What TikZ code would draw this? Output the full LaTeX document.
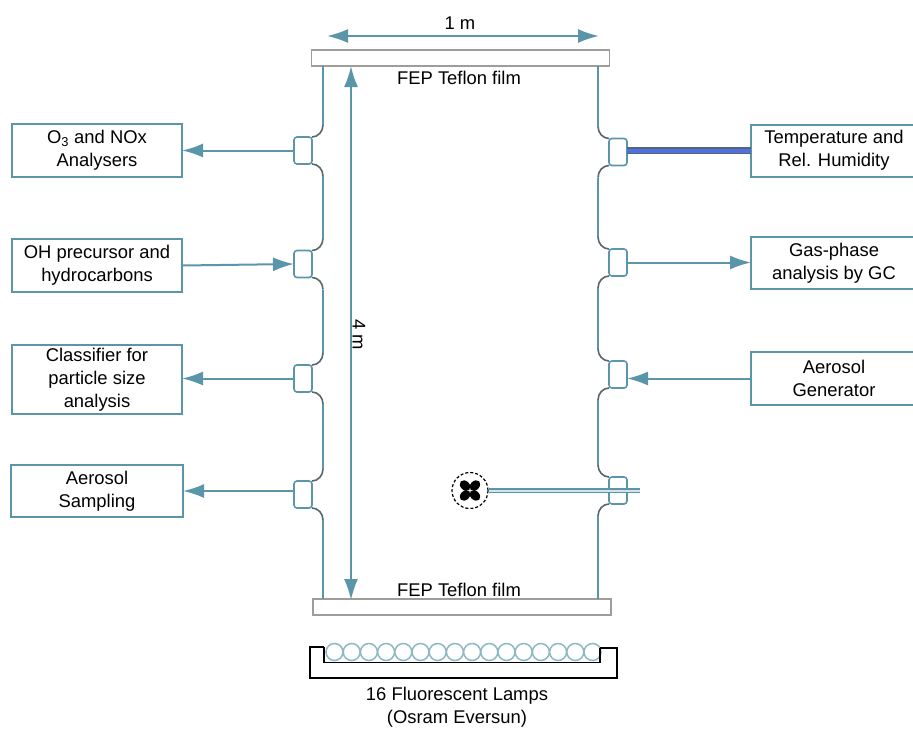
\documentclass[tikz,border=0pt]{standalone}
\usepackage{fontspec}
\setmainfont{Liberation Sans}
\usepackage{xcolor}
\usetikzlibrary{arrows.meta,positioning}
\definecolor{accent}{HTML}{5B95A9}
\definecolor{lampcol}{HTML}{8DB9C5}
\definecolor{plategray}{HTML}{A09C98}
\definecolor{bendgray}{HTML}{56666C}
\definecolor{probe}{HTML}{4F6FE8}
\begin{document}
\begin{tikzpicture}[
  x=1pt, y=-1pt,
  font=\fontsize{18.4}{23}\selectfont,
  instr/.style={draw=accent, line width=2pt, outer sep=0pt, minimum width=170pt, align=center, inner sep=0pt},
  port/.style={draw=accent, fill=white, line width=1.6pt, outer sep=0pt, rounded corners=3pt, minimum width=18pt, minimum height=27pt, inner sep=0pt},
  plate/.style={draw=plategray, line width=1.5pt, minimum width=298pt, minimum height=16pt, inner sep=0pt},
  arr/.style={-{Latex[length=21pt,width=14pt]}, draw=accent, line width=2pt},
  dimarr/.style={{Latex[length=21pt,width=14pt]}-{Latex[length=21pt,width=14pt]}, draw=accent, line width=2pt},
  wall/.style={draw=accent, line width=1.6pt},
  wallbend/.style={draw=bendgray, line width=1.6pt},
  txt/.style={inner sep=0pt, align=center}
]
\useasboundingbox (0,0) rectangle (913,729);
\node[plate] (top) at (460.5,58) {};
\node[plate] (bot) at (462,607) {};
\node[txt] (filmtop) at (459,78) {FEP Teflon film};
\node[txt] (filmbot) at (459,590) {FEP Teflon film};
\node[txt] (width) at (460,23) {1 m};
\node[txt, rotate=-90] (height) at (359,335) {4 m};
\node[instr, minimum height=53pt] (ozone) at (97,150.5) {O\textsubscript{3} and NOx\\Analysers};
\node[instr, minimum height=53pt] (precursor) at (97,265.5) {OH precursor and\\hydrocarbons};
\node[instr, minimum height=69pt] (classifier) at (97,379.5) {Classifier for\\particle size\\analysis};
\node[instr, minimum height=52pt, minimum width=172pt] (sampling) at (97,491) {Aerosol\\Sampling};
\node[instr, minimum height=52pt, minimum width=166pt] (temp) at (834,150.5) {Temperature and\\Rel. Humidity};
\node[instr, minimum height=52pt, minimum width=166pt] (gas) at (834,263) {Gas-phase\\analysis by GC};
\node[instr, minimum height=53pt, minimum width=166pt] (generator) at (834,378.5) {Aerosol\\Generator};
\node[port] (pl1) at (303,150.5) {};
\node[port] (pl2) at (303,264) {};
\node[port] (pl3) at (303,378.5) {};
\node[port] (pl4) at (303,494.5) {};
\node[port] (pr1) at (618,152) {};
\node[port] (pr2) at (618,262.5) {};
\node[port] (pr3) at (618,374.5) {};
\node[port] (pr4) at (618,490.5) {};
\coordinate (walltl) at (323,66);
\coordinate (wallbl) at (323,599);
\coordinate (walltr) at (598,66);
\coordinate (wallbr) at (598,599);
\foreach \p in {pl1,pl2,pl3,pl4} {
  \draw[wallbend] (\p.north east) .. controls +(6,0) and +(0,6.6) .. +(11,-12) coordinate (\p up);
  \draw[wallbend] (\p.south east) .. controls +(6,0) and +(0,-6.6) .. +(11,12) coordinate (\p dn);
}
\foreach \p in {pr1,pr2,pr3,pr4} {
  \draw[wallbend] (\p.north west) .. controls +(-6,0) and +(0,6.6) .. +(-11,-12) coordinate (\p up);
  \draw[wallbend] (\p.south west) .. controls +(-6,0) and +(0,-6.6) .. +(-11,12) coordinate (\p dn);
}
\foreach \a/\b in {walltl/pl1up, pl1dn/pl2up, pl2dn/pl3up, pl3dn/pl4up, pl4dn/wallbl,
                   walltr/pr1up, pr1dn/pr2up, pr2dn/pr3up, pr3dn/pr4up, pr4dn/wallbr}
  \draw[wall] (\a) -- (\b);
\draw[arr] (pl1.west) -- (pl1.west -| ozone.east);
\draw[arr] (precursor.east) -- (pl2.west);
\draw[arr] (pl3.west) -- (pl3.west -| classifier.east);
\draw[arr] (pl4.west |- sampling.east) -- (sampling.east);
\draw[arr] (pr2.east) -- (pr2.east -| gas.west);
\draw[arr] (generator.west) -- (generator.west -| pr3.east);
\draw[draw=bendgray, line width=1.5pt, double=probe, double distance=4pt] (temp.west -| pr1.east) -- (temp.west);
\coordinate (wleft) at (327,36);
\coordinate (wright) at (599,36);
\coordinate (hup) at (351,66);
\coordinate (hdown) at (351,600);
\draw[dimarr] (wleft) -- (wright);
\draw[dimarr] (hup) -- (hdown);
% fan and its rod
\node[circle, draw=black, densely dashed, line width=1.2pt, minimum size=36pt, inner sep=0pt] (fan) at (470,490.5) {};
\foreach \a in {45,135,225,315}
  \fill[shift={(fan.center)}, rotate=\a] (7pt,0pt) ellipse (6pt and 4.5pt);
\coordinate (rodend) at (640,490.5);
\draw[draw=accent, line width=1.4pt, double=accent!25, double distance=2pt] (fan.east) -- (rodend);
% lamps
\foreach \i in {0,...,15}
  \node[circle, draw=lampcol, fill=white, line width=1.5pt, minimum size=17pt, inner sep=0pt] (lamp\i) at (334.5+17.2*\i,652) {};
\coordinate (trayl) at (324,647);
\coordinate (trayr) at (600,648);
\draw[black, line width=1.5pt] (trayl) -- ++(-14,0) |- (617,678) -- (617,648) -- (trayr);
\draw[black, line width=1.5pt] (trayl) |- (600,662.5) -- (trayr);
\node[txt] (caption) at (457,707) {16 Fluorescent Lamps\\(Osram Eversun)};
\end{tikzpicture}
\end{document}
